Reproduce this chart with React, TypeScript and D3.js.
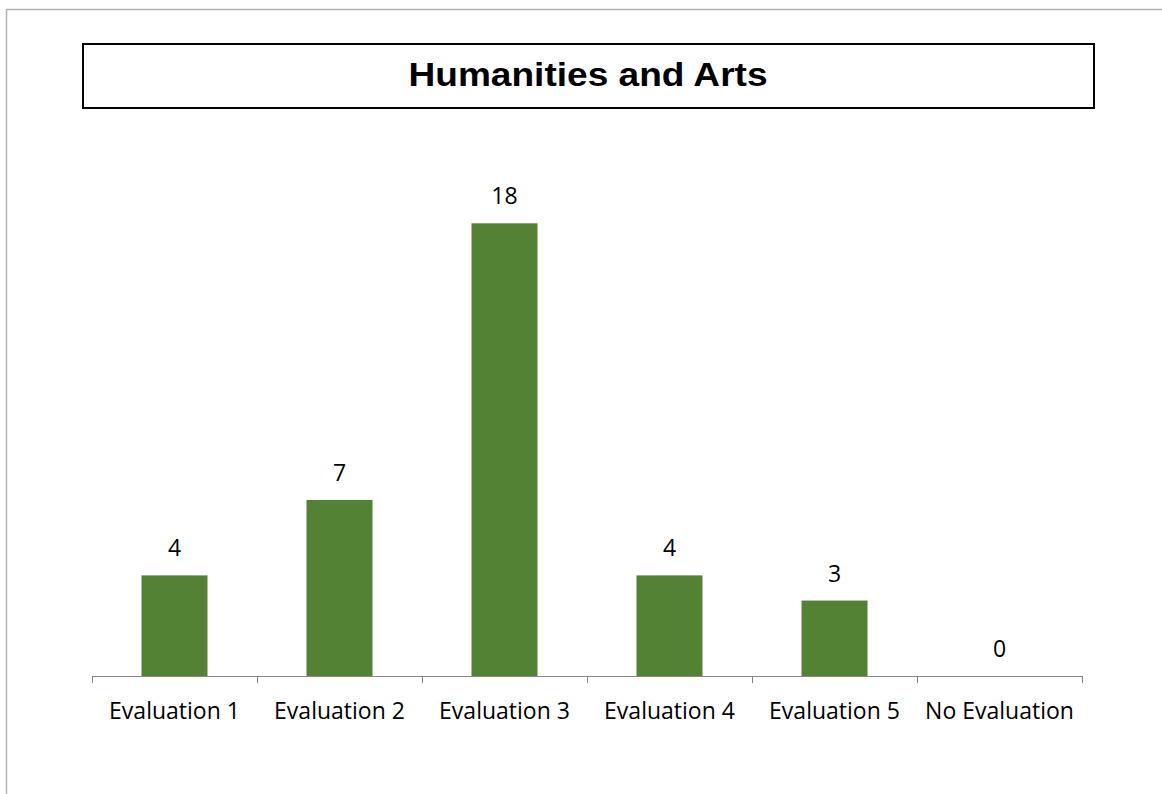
import React from "react";
import * as d3 from "d3";

const categories = ["Evaluation 1", "Evaluation 2", "Evaluation 3", "Evaluation 4", "Evaluation 5", "No Evaluation"];
const values = [4, 7, 18, 4, 3, 0];
const title = "Humanities and Arts";

const W = 1162;
const H = 794;
const plot = { left: 92, right: 1082, top: 173, bottom: 676 };

export default function App() {
  const x = d3
    .scaleBand<string>()
    .domain(categories)
    .range([plot.left, plot.right])
    .paddingInner(0.6)
    .paddingOuter(0.3);
  const y = d3.scaleLinear().domain([0, 20]).range([plot.bottom, plot.top]);
  const step = x.step();
  const tickXs = d3.range(categories.length + 1).map((i) => plot.left + i * step);
  const labelFont = "'Open Sans', 'Noto Sans', sans-serif";

  return (
    <div style={{ position: "absolute", left: 0, top: 0 }}>
      <svg width={W} height={H} style={{ display: "block", background: "#fff" }}>
        <line x1={6.5} y1={9} x2={6.5} y2={H} stroke="#b3b3b3" strokeWidth={1.5} />
        <line x1={6} y1={9.5} x2={W} y2={9.5} stroke="#b3b3b3" strokeWidth={1.5} />
        <rect x={83} y={44} width={1011} height={64} fill="#fff" stroke="#000" strokeWidth={2} />
        <text
          x={588}
          y={86}
          textAnchor="middle"
          fontFamily="'Liberation Sans', Arial, sans-serif"
          fontWeight="bold"
          fontSize={33}
          textLength={359}
          lengthAdjust="spacingAndGlyphs"
          fill="#000"
        >
          {title}
        </text>
        {categories.map((c, i) => (
          <rect
            key={c}
            x={x(c)}
            y={y(values[i])}
            width={x.bandwidth()}
            height={plot.bottom - y(values[i])}
            fill="#548235"
          />
        ))}
        <line x1={plot.left} y1={plot.bottom + 0.5} x2={plot.right} y2={plot.bottom + 0.5} stroke="#868686" strokeWidth={1} />
        {tickXs.map((tx, i) => (
          <line key={i} x1={tx + 0.5} y1={plot.bottom} x2={tx + 0.5} y2={plot.bottom + 7} stroke="#868686" strokeWidth={1} />
        ))}
        {categories.map((c, i) => (
          <text
            key={"v" + c}
            x={(x(c) as number) + x.bandwidth() / 2}
            y={y(values[i]) - 19}
            textAnchor="middle"
            fontFamily={labelFont}
            fontSize={23}
            fill="#000"
          >
            {values[i]}
          </text>
        ))}
        {categories.map((c) => (
          <text
            key={"l" + c}
            x={(x(c) as number) + x.bandwidth() / 2}
            y={718.5}
            textAnchor="middle"
            fontFamily={labelFont}
            fontSize={23}
            fill="#000"
          >
            {c}
          </text>
        ))}
      </svg>
    </div>
  );
}
